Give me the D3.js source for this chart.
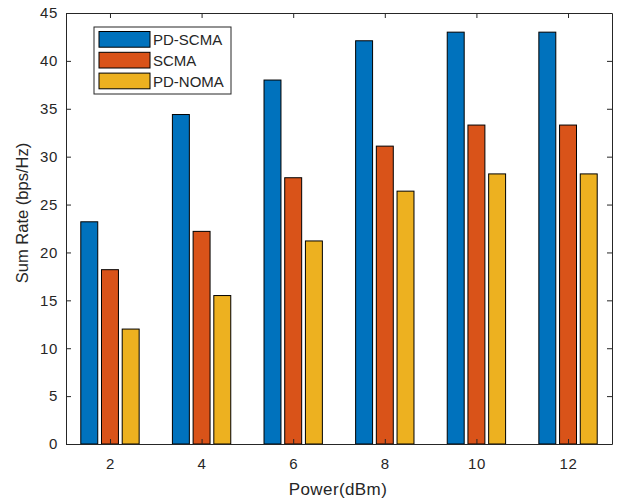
<!DOCTYPE html>
<html>
<head>
<meta charset="utf-8">
<script src="https://cdn.jsdelivr.net/npm/d3@7"></script>
<style>
  body { margin: 0; background: #fff; }
  text { font-family: "Liberation Sans", Arial, sans-serif; fill: #262626; }
</style>
</head>
<body>
<svg id="chart" width="619" height="500"></svg>
<script>
// data
const powers = [2, 4, 6, 8, 10, 12];
const seriesNames = ["PD-SCMA", "SCMA", "PD-NOMA"];
const pdScma = [23.2, 34.4, 38.0, 42.1, 43.0, 43.0];
const scma = [18.2, 22.2, 27.8, 31.1, 33.3, 33.3];
const pdNoma = [12.0, 15.5, 21.2, 26.4, 28.2, 28.2];
const yTicks = [0, 5, 10, 15, 20, 25, 30, 35, 40, 45];
const colors = ["#0072BD", "#D95319", "#EDB120"];

const series = [pdScma, scma, pdNoma];

const margin = {top: 13, right: 7, bottom: 56, left: 66};
const width = 619 - margin.left - margin.right;
const height = 500 - margin.top - margin.bottom;

const svg = d3.select("#chart");
const g = svg.append("g")
  .attr("transform", "translate(" + margin.left + "," + margin.top + ")");

const x = d3.scaleLinear().domain([1.04, 12.96]).range([0, width]);
const y = d3.scaleLinear().domain([0, 45]).range([height, 0]);

const barW = 0.37;   // in x units
const offset = 0.452; // distance between bars in a group

// bars
series.forEach((vals, si) => {
  g.selectAll(".bar" + si)
    .data(vals)
    .enter().append("rect")
    .attr("x", (d, i) => x(powers[i] + (si - 1) * offset - barW / 2))
    .attr("width", x(barW) - x(0))
    .attr("y", d => y(d))
    .attr("height", d => y(0) - y(d))
    .style("fill", colors[si])
    .style("stroke", "#000")
    .style("stroke-width", 1);
});

// axes, MATLAB style ticks inside
const axisColor = "#262626";
const xb = g.append("g").attr("transform", "translate(0," + height + ")")
  .call(d3.axisBottom(x).tickValues(powers).tickSizeInner(-5).tickSizeOuter(0).tickPadding(14));
const xt = g.append("g")
  .call(d3.axisTop(x).tickValues(powers).tickSizeInner(-5).tickSizeOuter(0).tickFormat(""));
const yl = g.append("g")
  .call(d3.axisLeft(y).tickValues(yTicks).tickSizeInner(-5).tickSizeOuter(0).tickPadding(8));
const yr = g.append("g").attr("transform", "translate(" + width + ",0)")
  .call(d3.axisRight(y).tickValues(yTicks).tickSizeInner(-5).tickSizeOuter(0).tickFormat(""));

[xb, xt, yl, yr].forEach(a => {
  a.selectAll("path").style("stroke", axisColor);
  a.selectAll("line").style("stroke", axisColor);
  a.selectAll("text").style("font-size", "15px").style("fill", axisColor)
    .style("letter-spacing", "0.6px")
    .style("font-family", "'Liberation Sans', Arial, sans-serif");
});

// axis titles
svg.append("text")
  .attr("x", 338)
  .attr("y", 495)
  .attr("text-anchor", "middle")
  .style("font-size", "17px")
  .style("letter-spacing", "0.4px")
  .text("Power(dBm)");

svg.append("text")
  .attr("transform", "translate(28,213) rotate(-90)")
  .attr("text-anchor", "middle")
  .style("font-size", "16.5px")
  .text("Sum Rate (bps/Hz)");

// legend
const leg = svg.append("g").attr("transform", "translate(94,27)");
leg.append("rect")
  .attr("width", 137).attr("height", 67)
  .style("fill", "#fff").style("stroke", axisColor).style("stroke-width", 1);
seriesNames.forEach((name, i) => {
  leg.append("rect")
    .attr("x", 5).attr("y", 4.5 + i * 20.8)
    .attr("width", 51).attr("height", 15.7)
    .style("fill", colors[i]).style("stroke", "#000");
  leg.append("text")
    .attr("x", 59).attr("y", 13 + i * 20.8)
    .attr("dy", "0.35em")
    .style("font-size", "15px")
    .text(name);
});
</script>
</body>
</html>
